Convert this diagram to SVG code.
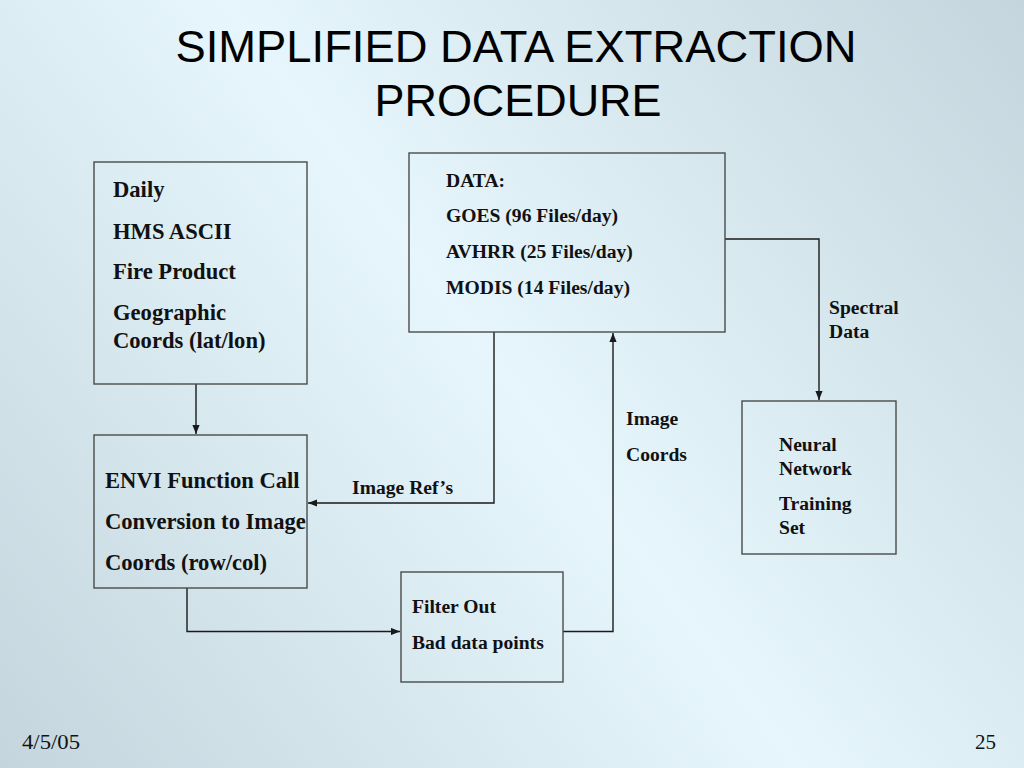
<svg xmlns="http://www.w3.org/2000/svg" width="1024" height="768" viewBox="0 0 1024 768">
<defs>
<linearGradient id="bg" x1="1024" y1="0" x2="0" y2="768" gradientUnits="userSpaceOnUse">
<stop offset="0" stop-color="#c4d5dd"/>
<stop offset="0.5" stop-color="#e6f6fc"/>
<stop offset="1" stop-color="#c4d5dd"/>
</linearGradient>
<marker id="arr" viewBox="0 0 10 8" refX="10" refY="4" markerWidth="9" markerHeight="7.5" markerUnits="userSpaceOnUse" orient="auto">
<path d="M0,0 L10,4 L0,8 Z" fill="#1a1a1a"/>
</marker>
</defs>
<style>
.box{fill:none;stroke:#4a4a4a;stroke-width:1.4}
.t{font-family:"Liberation Serif","Times New Roman",serif;font-weight:bold;fill:#111}
.t22{font-size:22.6px}
.t18{font-size:19.6px}
.title{font-family:"Liberation Sans",Arial,sans-serif;font-size:45px;fill:#000}
.foot{font-family:"Liberation Serif","Times New Roman",serif;font-size:21px;fill:#111}
.c{fill:none;stroke:#1a1a1a;stroke-width:1.4}
</style>
<rect x="0" y="0" width="1024" height="768" fill="url(#bg)"/>
<g id="title">
<text class="title" x="516" y="62" text-anchor="middle" textLength="681" lengthAdjust="spacingAndGlyphs">SIMPLIFIED DATA EXTRACTION</text>
<text class="title" x="518" y="116" text-anchor="middle" textLength="287" lengthAdjust="spacingAndGlyphs">PROCEDURE</text>
</g>
<g id="connectors">
<path class="c" d="M196,384 V434" marker-end="url(#arr)"/>
<path class="c" d="M494,332 V503 H308" marker-end="url(#arr)"/>
<path class="c" d="M187,588 V631.5 H400" marker-end="url(#arr)"/>
<path class="c" d="M563,631.5 H613 V333" marker-end="url(#arr)"/>
<path class="c" d="M725,239 H819 V400" marker-end="url(#arr)"/>
</g>
<g id="labels">
<text class="t t18" x="352" y="494">Image Ref’s</text>
<text class="t t18" x="626" y="425">Image</text>
<text class="t t18" x="626" y="461">Coords</text>
<text class="t t18" x="829" y="314">Spectral</text>
<text class="t t18" x="829" y="338">Data</text>
</g>
<g id="node-hms">
<rect class="box" x="94" y="162" width="213" height="222"/>
<text class="t t22" x="113" y="197">Daily</text>
<text class="t t22" x="113" y="239">HMS ASCII</text>
<text class="t t22" x="113" y="279">Fire Product</text>
<text class="t t22" x="113" y="320">Geographic</text>
<text class="t t22" x="113" y="348">Coords (lat/lon)</text>
</g>
<g id="node-data">
<rect class="box" x="409" y="153" width="316" height="179"/>
<text class="t t18" x="446" y="187">DATA:</text>
<text class="t t18" x="446" y="222">GOES (96 Files/day)</text>
<text class="t t18" x="446" y="258">AVHRR (25 Files/day)</text>
<text class="t t18" x="446" y="294">MODIS (14 Files/day)</text>
</g>
<g id="node-envi">
<rect class="box" x="94" y="435" width="213" height="153"/>
<text class="t t22" x="105" y="488">ENVI Function Call</text>
<text class="t t22" x="105" y="529">Conversion to Image</text>
<text class="t t22" x="105" y="570">Coords (row/col)</text>
</g>
<g id="node-filter">
<rect class="box" x="401" y="572" width="162" height="110"/>
<text class="t t18" x="412" y="613">Filter Out</text>
<text class="t t18" x="412" y="649">Bad data points</text>
</g>
<g id="node-neural">
<rect class="box" x="742" y="401" width="154" height="153"/>
<text class="t t18" x="779" y="451">Neural</text>
<text class="t t18" x="779" y="475">Network</text>
<text class="t t18" x="779" y="510">Training</text>
<text class="t t18" x="779" y="534">Set</text>
</g>
<g id="footer">
<text class="foot" x="22" y="749" textLength="58" lengthAdjust="spacingAndGlyphs">4/5/05</text>
<text class="foot" x="996" y="749" text-anchor="end">25</text>
</g>
</svg>
